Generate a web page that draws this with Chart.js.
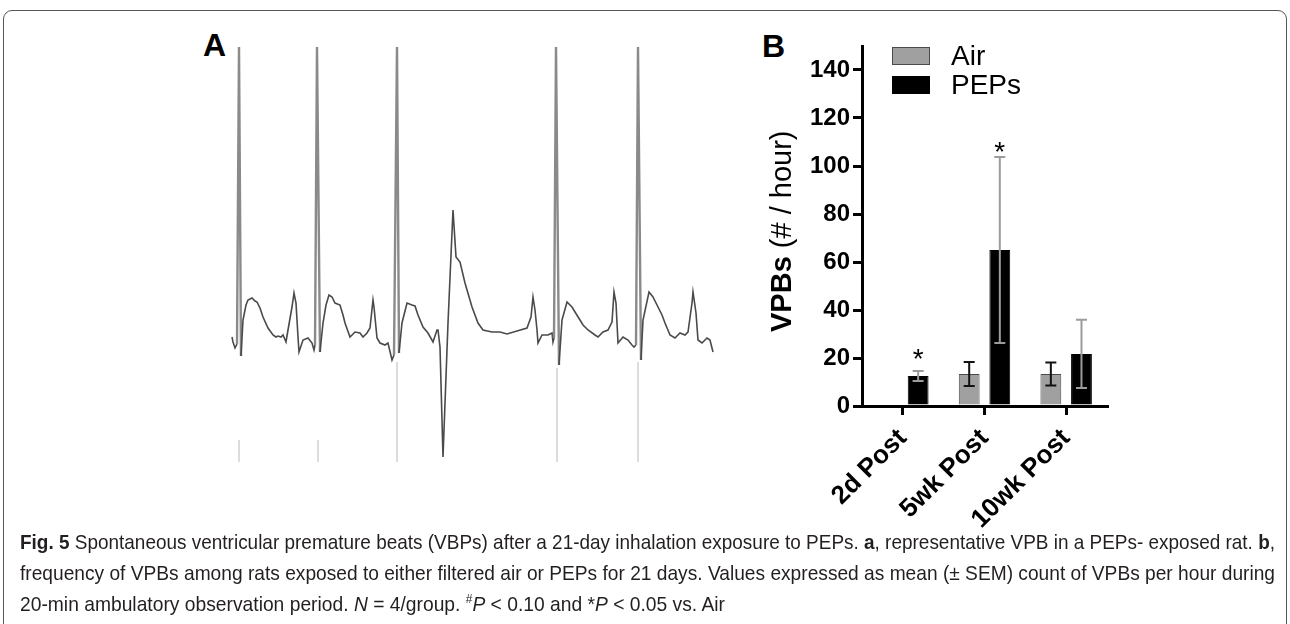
<!DOCTYPE html>
<html>
<head>
<meta charset="utf-8">
<script src="https://cdn.jsdelivr.net/npm/chart.js@4.4.1/dist/chart.umd.min.js"></script>
<style>
  html, body { margin:0; padding:0; background:#fff; }
  body { width:1290px; height:624px; position:relative; overflow:hidden; font-family:Arial, "Liberation Sans", sans-serif; }
  .frame { position:absolute; left:3px; top:10px; width:1282px; height:660px; border:1px solid #555; border-radius:9px; }
  .panel-letter { position:absolute; font-weight:bold; font-size:32px; line-height:32px; color:#000; }
  #ecg { position:absolute; left:222px; top:37px; }
  #bars { position:absolute; left:700px; top:20px; }
  #caption { position:absolute; left:20px; top:526px; color:#231f20;
             font-family:"Liberation Sans", Arial, sans-serif; font-size:21px; }
  #caption .ln { display:block; height:31px; line-height:31px; overflow:visible; }
  #caption .ln span { display:inline-block; white-space:nowrap; transform-origin:0 50%; }
  #caption sup { font-size:13px; line-height:0; vertical-align:8px; }
</style>
</head>
<body>
<div class="frame"></div>
<div class="panel-letter" style="left:203px; top:29px;">A</div>
<div class="panel-letter" style="left:762px; top:30px;">B</div>
<canvas id="ecg" width="500" height="435"></canvas>
<canvas id="bars" width="420" height="510"></canvas>
<div id="caption">
  <div class="ln"><span data-w="1255"><b>Fig. 5</b> Spontaneous ventricular premature beats (VBPs) after a 21-day inhalation exposure to PEPs. <b>a</b>, representative VPB in a PEPs- exposed rat. <b>b</b>,</span></div>
  <div class="ln"><span data-w="1255">frequency of VPBs among rats exposed to either filtered air or PEPs for 21 days. Values expressed as mean (± SEM) count of VPBs per hour during</span></div>
  <div class="ln"><span data-w="705">20-min ambulatory observation period. <i>N</i> = 4/group. <sup>#</sup><i>P</i> &lt; 0.10 and *<i>P</i> &lt; 0.05 vs. Air</span></div>
</div>
<script>
// ---- panel B data ----
const timepoints = ['2d Post', '5wk Post', '10wk Post'];
const airMean  = [null, 13.3, 13.3];
const airSem   = [null, 5.0, 4.8];
const pepsMean = [12.5, 65.0, 21.7];
const pepsSem  = [2.1, 38.8, 14.2];
const pepsStar = [22.3, 108.6, null];   // where the * marks sit (value units)
const yTicksMax = 150;

// ---- panel A data: representative ECG trace (time units, amplitude units) ----
const ecgT = [0,1,3,5,7,9,11,14,16,20,23,25,28,31,36,41,44,46,49,51,54,56,60,62,64,66,67,71,76,80,82,
  83,85,88,91,94,97,100,103,108,111,113,118,123,128,131,135,138,141,142,145,148,153,156,160,
  162,165,167,170,175,180,183,186,191,196,201,205,206,208,211,216,221,224,228,233,240,246,251,
  260,268,275,285,295,299,301,303,305,306,310,316,320,321,
  322,324,327,330,335,340,343,348,351,356,363,366,371,376,380,382,384,386,391,396,400,402,
  404,406,409,411,417,421,426,430,433,438,443,448,453,456,460,461,464,466,470,475,478,481];
const ecgV = [0,-5,-11,-7,290,-19,17,32,37,39,36,35,29,20,9,2,0,1,0,2,-5,7,30,44,34,0,-15,-3,-1,-6,-13,
  -8,290,-15,14,32,42,40,34,32,22,14,0,5,4,0,4,9,37,30,-1,-6,-8,-6,-23,
  -18,290,-16,14,34,32,31,22,10,4,-5,7,7,-10,-120,14,127,80,75,54,30,14,7,
  5,5,3,6,9,20,40,27,7,-6,2,2,4,-5,
  -1,290,-28,17,35,30,25,17,12,7,2,0,5,7,15,45,34,-6,0,-3,-8,-10,
  -8,290,-23,17,45,40,30,22,14,2,-1,4,2,5,34,45,24,-3,-6,-1,-3,-15];
// faint grey marks under the beats (scan artefacts in the original figure)
const artT = [7,7,null, 86,86,null, 165,165,null, 325,325,null, 406,406];
const artV = [-103,-125,null, -103,-125,null, -25,-125,null, -31,-125,null, -25,-125];

const ecgPts = ecgT.map((t, i) => ({x:t, y:ecgV[i]}));
const artPts = artT.map((t, i) => ({x: t === null ? artT[i-1] : t, y: artV[i]}));

new Chart(document.getElementById('ecg'), {
  type:'line',
  data:{datasets:[
    {data:artPts, borderColor:'#dcdcdc', borderWidth:2, pointRadius:0, spanGaps:false, tension:0},
    {data:ecgPts, borderColor:'#4a4a4a', borderWidth:1.6, pointRadius:0, tension:0,
     segment:{
       borderColor: c => Math.abs(c.p1.parsed.y - c.p0.parsed.y) > 150 ? '#8a8a8a' : undefined,
       borderWidth: c => Math.abs(c.p1.parsed.y - c.p0.parsed.y) > 150 ? 2.4 : undefined
     }}
  ]},
  options:{
    responsive:false, animation:false,
    layout:{padding:0},
    plugins:{legend:{display:false}, tooltip:{enabled:false}},
    scales:{
      x:{type:'linear', min:-10, max:490, display:false},
      y:{min:-135, max:300, display:false}
    }
  }
});

// ---- plugins for panel B ----
const errorBars = {
  id:'errorBars',
  afterDatasetsDraw(chart){
    const ctx = chart.ctx, ys = chart.scales.y;
    chart.data.datasets.forEach((ds, i) => {
      const meta = chart.getDatasetMeta(i);
      ds.data.forEach((v, j) => {
        const e = ds.errors[j];
        if (v === null || e === null) return;
        const x = meta.data[j].x;
        const top = ys.getPixelForValue(v + e), bot = ys.getPixelForValue(v - e);
        ctx.save();
        ctx.strokeStyle = ds.errColor; ctx.lineWidth = 2;
        ctx.beginPath();
        ctx.moveTo(x, top); ctx.lineTo(x, bot);
        ctx.moveTo(x - 5.5, top); ctx.lineTo(x + 5.5, top);
        ctx.moveTo(x - 5.5, bot); ctx.lineTo(x + 5.5, bot);
        ctx.stroke();
        ctx.restore();
      });
    });
  }
};

const stars = {
  id:'stars',
  afterDatasetsDraw(chart){
    const ctx = chart.ctx, ys = chart.scales.y, meta = chart.getDatasetMeta(1);
    ctx.save();
    ctx.fillStyle = '#000'; ctx.font = '28px Arial, "Liberation Sans"';
    ctx.textAlign = 'center'; ctx.textBaseline = 'alphabetic';
    pepsStar.forEach((s, j) => {
      if (s === null) return;
      ctx.fillText('*', meta.data[j].x, ys.getPixelForValue(s) + 16);
    });
    ctx.restore();
  }
};

const boxLegend = {
  id:'boxLegend',
  afterDraw(chart){
    const ctx = chart.ctx;
    ctx.save();
    chart.data.datasets.forEach((ds, i) => {
      const y = 27 + i * 29;
      ctx.fillStyle = ds.backgroundColor; ctx.fillRect(192, y, 38, 18);
      ctx.strokeStyle = ds.borderColor; ctx.lineWidth = 1; ctx.strokeRect(192.5, y + 0.5, 37, 17);
      ctx.fillStyle = '#000'; ctx.font = '28px Arial, "Liberation Sans"';
      ctx.textBaseline = 'middle'; ctx.textAlign = 'left';
      ctx.fillText(ds.label, 251, y + 10);
    });
    ctx.restore();
  }
};

const yTitle = {
  id:'yTitle',
  afterDraw(chart){
    const ctx = chart.ctx;
    ctx.save();
    ctx.translate(83, 312);
    ctx.rotate(-Math.PI / 2);
    ctx.fillStyle = '#000'; ctx.textBaseline = 'middle'; ctx.textAlign = 'left';
    ctx.font = 'bold 29px Arial, "Liberation Sans"';
    ctx.fillText('VPBs', 0, 0);
    const w = ctx.measureText('VPBs ').width;
    ctx.font = '29px Arial, "Liberation Sans"';
    ctx.fillText('(# / hour)', w, 0);
    ctx.restore();
  }
};

const yTickFont = {family:'Arial, "Liberation Sans"', size:24, weight:'bold'};
const xTickFont = {family:'Arial, "Liberation Sans"', size:26, weight:'bold'};

new Chart(document.getElementById('bars'), {
  type:'bar',
  data:{
    labels: timepoints,
    datasets:[
      {label:'Air', data:airMean, errors:airSem, errColor:'#111',
       backgroundColor:'#a0a0a0', borderColor:'#4a4a4a', borderWidth:1,
       categoryPercentage:0.75, barPercentage:0.68},
      {label:'PEPs', data:pepsMean, errors:pepsSem, errColor:'#9c9c9c',
       backgroundColor:'#000', borderColor:'#000', borderWidth:1,
       categoryPercentage:0.75, barPercentage:0.68}
    ]
  },
  options:{
    responsive:false, animation:false,
    layout:{padding:{left:0, right:13, top:26, bottom:0}},
    plugins:{legend:{display:false}, tooltip:{enabled:false}},
    scales:{
      x:{
        grid:{display:true, offset:false, drawOnChartArea:false, drawTicks:true, tickLength:9, lineWidth:3, color:'#000'},
        border:{display:true, width:3, color:'#000'},
        ticks:{color:'#000', font:xTickFont, maxRotation:45, minRotation:45, padding:8},
        afterFit(s){ s.height = 124; }
      },
      y:{
        min:0, max:yTicksMax,
        grid:{drawOnChartArea:false, drawTicks:true, tickLength:9, lineWidth:3, color:'#000'},
        border:{display:true, width:3, color:'#000'},
        ticks:{stepSize:10, color:'#000', font:yTickFont, padding:3,
               callback: v => (v % 20 === 0 && v < yTicksMax) ? v : ''},
        afterFit(s){ s.width = 162; }
      }
    }
  },
  plugins:[errorBars, stars, boxLegend, yTitle]
});

// squeeze each caption line to the width it has in the figure
document.querySelectorAll('#caption .ln span').forEach(sp => {
  const target = +sp.dataset.w;
  sp.style.transform = 'scaleX(' + (target / sp.getBoundingClientRect().width) + ')';
});
</script>
</body>
</html>
